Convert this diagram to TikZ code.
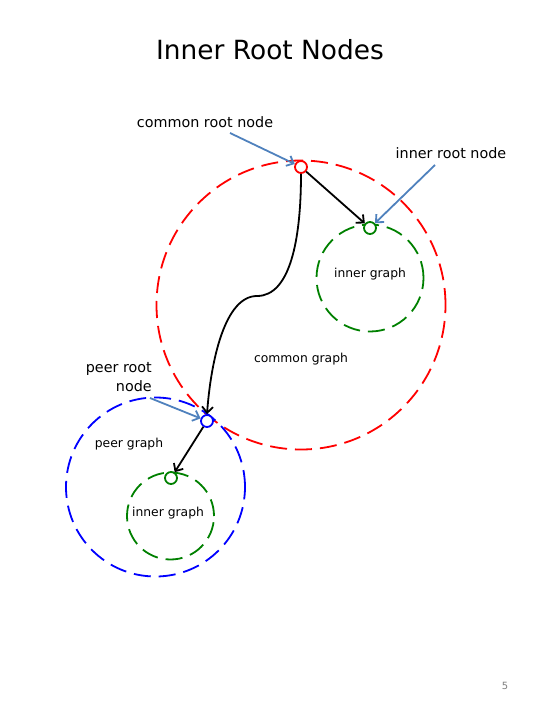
\documentclass[tikz,border=0pt]{standalone}
\usepackage{fontspec}
\setmainfont{DejaVu Sans}
\usetikzlibrary{arrows.meta}
\definecolor{pointer}{RGB}{79,129,189}
\definecolor{dgreen}{RGB}{0,128,0}
\tikzset{
  graphring/.style={circle, draw, line width=1.8bp, dash pattern=on 17bp off 8bp, inner sep=0pt, minimum size=#1},
  rootnode/.style={circle, draw, line width=1.8bp, fill=white, inner sep=0pt, minimum size=12bp},
  label/.style={font=\fontsize{12.4}{14}\selectfont, inner sep=0pt},
  biglabel/.style={font=\fontsize{14.4}{17}\selectfont, inner sep=0pt},
  flow/.style={line width=1.8bp, -{Straight Barb[length=6bp,width=11bp]}},
  pointer/.style={draw=pointer, line width=1.8bp, -{Straight Barb[length=6bp,width=11bp]}},
}
\begin{document}
\begin{tikzpicture}[x=1bp,y=-1bp]
\useasboundingbox (0,0) rectangle (540,720);
\node[font=\fontsize{26.5}{30}\selectfont] (title) at (270,50) {Inner Root Nodes};
% rings
\node[graphring=289bp, draw=red] (common) at (301,305) {};
\node[graphring=107bp, draw=dgreen] (inner1) at (370,278) {};
\node[graphring=179bp, draw=blue] (peer) at (155.5,487) {};
\node[graphring=87bp, draw=dgreen] (inner2) at (170.5,516) {};
% root nodes
\node[rootnode, draw=red] (croot) at (301,167) {};
\node[rootnode, draw=dgreen] (iroot1) at (370,228) {};
\node[rootnode, draw=blue] (proot) at (207,421) {};
\node[rootnode, draw=dgreen] (iroot2) at (171,478) {};
% labels
\node[biglabel] (lcr) at (205,122) {common root node};
\node[biglabel] (lir) at (451,153) {inner root node};
\node[biglabel, align=right, font=\fontsize{14.4}{19}\selectfont, anchor=east] (lpr) at (152,377) {peer root\\node};
\node[label] (lig1) at (370,274) {inner graph};
\node[label] (lcg) at (301,359) {common graph};
\node[label] (lpg) at (129,444) {peer graph};
\node[label] (lig2) at (168,513) {inner graph};
\node[font=\fontsize{10}{12}\selectfont, text=gray] (pnum) at (505,686) {5};
% pointers
\coordinate (p1) at (230,133);
\coordinate (p2) at (435,165);
\coordinate (p3) at (150,398);
\draw[pointer] (p1) -- (croot);
\draw[pointer] (p2) -- (iroot1);
\draw[pointer] (p3) -- (proot);
% flows
\draw[flow] (croot) -- (iroot1);
\coordinate (kink) at (257,296);
\draw[flow] (croot.south) .. controls (301,240) and (290,296) .. (kink) .. controls (225,296) and (211,360) .. (proot.north);
\draw[flow] (proot) -- (iroot2);
\end{tikzpicture}
\end{document}
